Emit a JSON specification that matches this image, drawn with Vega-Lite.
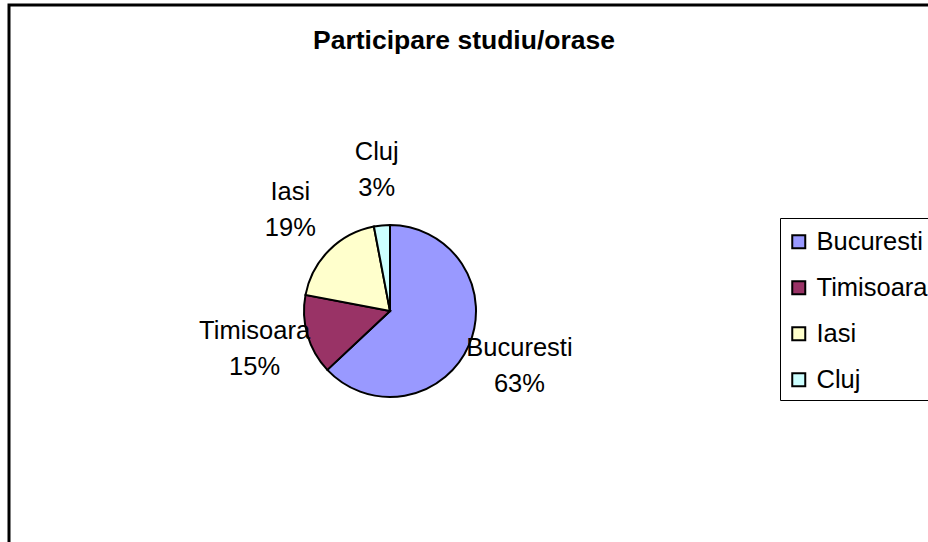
{
  "$schema": "https://vega.github.io/schema/vega-lite/v6.json",
  "width": 940,
  "height": 560,
  "autosize": "none",
  "padding": {"left": 9, "top": 5, "right": 0, "bottom": 0},
  "background": "white",
  "view": {"stroke": "black", "strokeWidth": 3, "fill": "white"},
  "config": {
    "view": {"stroke": "black", "strokeWidth": 3},
    "font": "Liberation Sans",
    "legend": {"strokeColor": "black", "fillColor": "white", "padding": 6}
  },
  "title": {
    "text": "Participare studiu/orase",
    "font": "Liberation Sans",
    "fontSize": 26.5,
    "fontWeight": "bold",
    "color": "black",
    "anchor": "middle",
    "offset": -49,
    "dx": -15
  },
  "data": {
    "values": [
      {"city": "Bucuresti", "pct": 63, "ord": 1},
      {"city": "Timisoara", "pct": 15, "ord": 2},
      {"city": "Iasi", "pct": 19, "ord": 3},
      {"city": "Cluj", "pct": 3, "ord": 4}
    ]
  },
  "transform": [
    {"calculate": "[datum.city, datum.pct + '%']", "as": "label"}
  ],
  "encoding": {
    "theta": {"field": "pct", "type": "quantitative", "stack": true},
    "order": {"field": "ord", "type": "quantitative"}
  },
  "layer": [
    {
      "mark": {"type": "arc", "outerRadius": 86, "stroke": "black", "strokeWidth": 2, "x": 381, "y": 306},
      "encoding": {
        "color": {
          "field": "city",
          "type": "nominal",
          "scale": {
            "domain": ["Bucuresti", "Timisoara", "Iasi", "Cluj"],
            "range": ["#9999FF", "#993366", "#FFFFCC", "#CCFFFF"]
          },
          "legend": {
            "title": " ",
            "titleFontSize": 1,
            "titlePadding": 4,
            "orient": "none",
            "legendX": 771,
            "legendY": 213,
            "symbolType": "square",
            "symbolSize": 169,
            "symbolStrokeColor": "black",
            "symbolStrokeWidth": 2,
            "symbolOpacity": 1,
            "labelFont": "Liberation Sans",
            "labelFontSize": 25.5,
            "labelColor": "black",
            "labelOffset": 5,
            "rowPadding": 19,
            "labelLimit": 300
          }
        }
      }
    },
    {
      "mark": {
        "type": "text",
        "radius": 141,
        "x": 381,
        "y": 306,
        "dy": -19,
        "font": "Liberation Sans",
        "fontSize": 25.5,
        "lineHeight": 36,
        "align": "center",
        "baseline": "middle",
        "color": "black"
      },
      "encoding": {
        "text": {"field": "label"}
      }
    }
  ]
}
